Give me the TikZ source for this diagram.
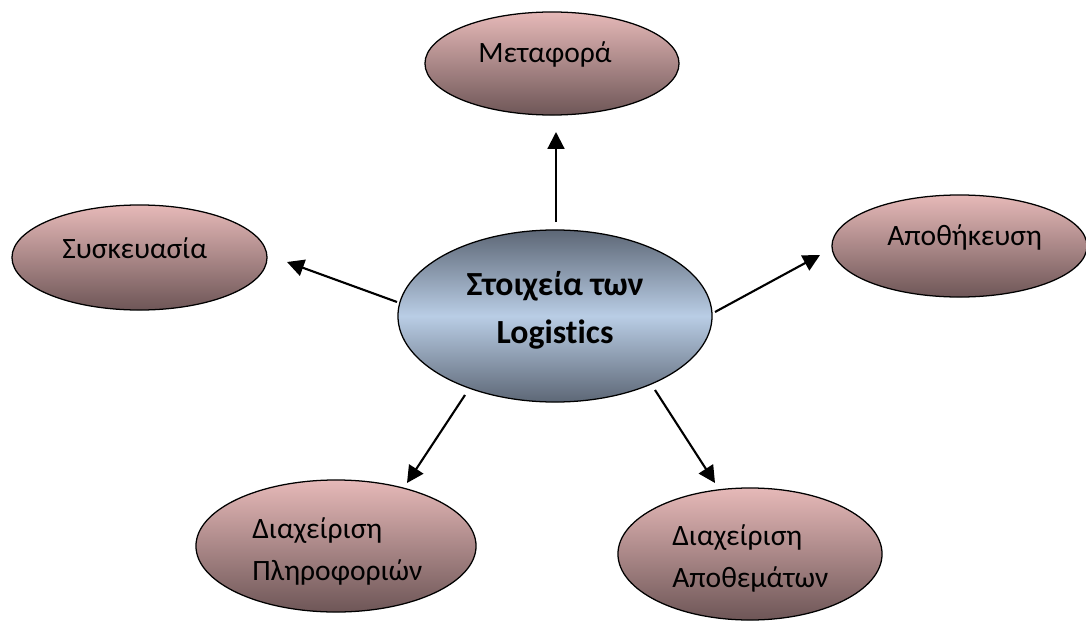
\documentclass[tikz,border=0pt]{standalone}
\usepackage{fontspec}
\setmainfont{Carlito}[Ligatures=NoCommon]
\usetikzlibrary{shapes.geometric,arrows.meta}
\definecolor{pinktop}{HTML}{E6B9B8}
\definecolor{pinkbot}{HTML}{6E5657}
\definecolor{bluemid}{HTML}{B9CDE5}
\definecolor{bluedark}{HTML}{5D6776}

\begin{document}
\begin{tikzpicture}[x=0.025cm,y=-0.025cm,
	blob/.style={ellipse,draw=black,line width=0.9pt,inner sep=0pt,top color=pinktop,bottom color=pinkbot},
	hub/.style={ellipse,draw=black,line width=0.9pt,inner sep=0pt,top color=bluedark,bottom color=bluedark,middle color=bluemid},
	lbl/.style={inner sep=0pt,anchor=base west,align=left,font=\fontsize{21}{29.5}\selectfont},
	arr/.style={-{Triangle[width=12pt,length=12pt]},line width=1.5pt}]
	\useasboundingbox (0,0) rectangle (1086,624);

	 \node[hub,minimum width=7.85cm,minimum height=4.3cm] (logistics) at (555,316) {};
	 \node[blob,minimum width=6.35cm,minimum height=2.575cm] (metafora) at (552,63.5) {};
	 \node[blob,minimum width=6.375cm,minimum height=2.625cm] (syskevasia) at (139.5,257.5) {};
	 \node[blob,minimum width=6.375cm,minimum height=2.55cm] (apothikefsi) at (959.5,246) {};
	 \node[blob,minimum width=7cm,minimum height=3.3cm] (plirofories) at (336,546) {};
	 \node[blob,minimum width=6.6cm,minimum height=3.3cm] (apothemata) at (750,554) {};

	 \node[lbl,anchor=base,align=center,font=\fontsize{24}{34}\selectfont\bfseries] (logistics-t) at (555,343) {Στοιχεία των\\Logistics};
	 \node[lbl] (metafora-t) at (478,63) {Μεταφορά};
	 \node[lbl] (syskevasia-t) at (62,258) {Συσκευασία};
	 \node[lbl] (apothikefsi-t) at (887,245) {Αποθήκευση};
	 \node[lbl] (plirofories-t) at (252,580) {Διαχείριση\\Πληροφοριών};
	 \node[lbl] (apothemata-t) at (672,587) {Διαχείριση\\Αποθεμάτων};

	 \coordinate (up-s) at (556,222);
	 \coordinate (up-e) at (556,132);
	 \coordinate (left-s) at (397,302);
	 \coordinate (left-e) at (287,262);
	 \coordinate (right-s) at (715,312);
	 \coordinate (right-e) at (820,255);
	 \coordinate (dl-s) at (465,395);
	 \coordinate (dl-e) at (407,483);
	 \coordinate (dr-s) at (655,390);
	 \coordinate (dr-e) at (715,483);

	 \draw[arr] (up-s) -- (up-e);
	 \draw[arr] (left-s) -- (left-e);
	 \draw[arr] (right-s) -- (right-e);
	 \draw[arr] (dl-s) -- (dl-e);
	 \draw[arr] (dr-s) -- (dr-e);
\end{tikzpicture}
\end{document}
